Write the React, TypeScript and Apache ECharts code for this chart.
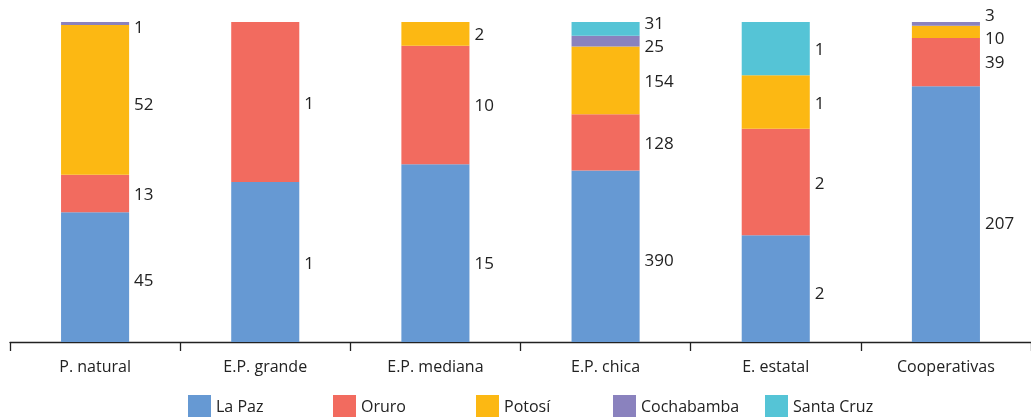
import React, { useEffect, useRef } from "react";
import * as echarts from "echarts";

const categories = ["P. natural", "E.P. grande", "E.P. mediana", "E.P. chica", "E. estatal", "Cooperativas"];
const seriesNames = ["La Paz", "Oruro", "Potosí", "Cochabamba", "Santa Cruz"];
const laPaz = [45, 1, 15, 390, 2, 207];
const oruro = [13, 1, 10, 128, 2, 39];
const potosi = [52, 0, 2, 154, 1, 10];
const cochabamba = [1, 0, 0, 25, 0, 3];
const santaCruz = [0, 0, 0, 31, 1, 0];
const colors = ["#6699d3", "#f26b5f", "#fcb813", "#8a82be", "#55c4d6"];

const raw = [laPaz, oruro, potosi, cochabamba, santaCruz];

// label nudges (pixels) to keep crowded labels apart: "series-category" -> dy
const labelNudge: Record<string, number> = {
  "0-0": 2,
  "0-2": 9,
  "0-3": 3,
  "0-4": 4,
  "0-5": 8,
  "2-0": 4,
  "3-0": 3,
  "3-3": 4,
  "4-3": -6,
  "1-5": -1,
  "2-5": 6,
  "3-5": -9,
};

export default function App() {
  const ref = useRef<HTMLDivElement>(null);
  useEffect(() => {
    if (!ref.current) return;
    const chart = echarts.init(ref.current, null, { renderer: "svg" });
    const totals = categories.map((_, i) => raw.reduce((s, arr) => s + arr[i], 0));
    const font = "'Open Sans', 'Noto Sans', sans-serif";
    const legendLefts = [188, 333, 476, 613, 765];
    chart.setOption({
      animation: false,
      textStyle: { fontFamily: font },
      grid: { left: 10, right: -6, top: 22, bottom: 75 },
      xAxis: {
        type: "category",
        data: categories,
        axisLine: { lineStyle: { color: "#222", width: 1.3 } },
        axisTick: { show: true, length: 9, interval: 0, lineStyle: { color: "#222", width: 1.3 } },
        axisLabel: { color: "#222", fontSize: 16, margin: 16, fontFamily: font, interval: 0 },
      },
      yAxis: { type: "value", min: 0, max: 100, show: false, splitLine: { show: false } },
      legend: seriesNames.map((n, i) => ({
        data: [n],
        left: legendLefts[i],
        top: 395,
        padding: 0,
        itemWidth: 23,
        itemHeight: 22,
        itemGap: 6,
        icon: "rect",
        textStyle: { fontSize: 16, color: "#222", fontFamily: font, lineHeight: 18 },
      })),
      series: raw.map((arr, si) => ({
        name: seriesNames[si],
        type: "bar",
        stack: "total",
        barWidth: "40%",
        itemStyle: { color: colors[si] },
        data: arr.map((v, i) => (v === 0 ? null : (v / totals[i]) * 100)),
        label: {
          show: true,
          position: "right",
          distance: 5,
          color: "#222",
          fontSize: 17,
          lineHeight: 18,
          fontFamily: font,
          formatter: (p: any) => String(arr[p.dataIndex]),
        },
        labelLayout: (p: any) => {
          const dy = labelNudge[`${si}-${p.dataIndex}`];
          return dy ? { dy } : {};
        },
      })),
    });
    return () => chart.dispose();
  }, []);
  return <div ref={ref} style={{ position: "fixed", left: 0, top: 0, width: 1031, height: 417 }} />;
}
